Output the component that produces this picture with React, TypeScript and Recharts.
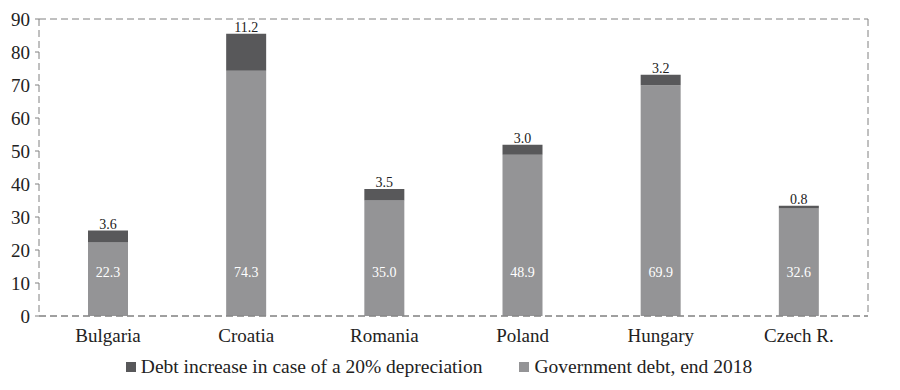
import { Bar, BarChart, CartesianGrid, LabelList, Legend, XAxis, YAxis } from "recharts"

const countries = ["Bulgaria", "Croatia", "Romania", "Poland", "Hungary", "Czech R."]
const govDebt = [22.3, 74.3, 35.0, 48.9, 69.9, 32.6]
const debtIncrease = [3.6, 11.2, 3.5, 3.0, 3.2, 0.8]
const yTicks = [0, 10, 20, 30, 40, 50, 60, 70, 80, 90]

const data = countries.map((name, i) => ({ name, gov: govDebt[i], inc: debtIncrease[i] }))

const FONT = "'Liberation Serif', 'Times New Roman', serif"
const DARK = "#58585a"
const LIGHT = "#949496"
const GRID = "#808080"

const legendItems = [
  { label: "Debt increase in case of a 20% depreciation", color: DARK },
  { label: "Government debt, end 2018", color: LIGHT },
]

function LegendContent() {
  return (
    <div style={{ display: "flex", justifyContent: "center", gap: 37, fontFamily: FONT, fontSize: 19.5, color: "#222", paddingTop: 4 }}>
      {legendItems.map((it) => (
        <span key={it.label} style={{ display: "flex", alignItems: "center" }}>
          <span style={{ width: 10, height: 10, background: it.color, marginRight: 5, display: "inline-block" }} />
          {it.label}
        </span>
      ))}
    </div>
  )
}

function InsideLabel(props: any) {
  const { x, y, width, height, value } = props
  return (
    <text x={x + width / 2} y={y + height - 44} fill="#fff" fontSize={14} fontFamily={FONT} textAnchor="middle" dominantBaseline="central">
      {Number(value).toFixed(1)}
    </text>
  )
}

function TopLabel(props: any) {
  const { x, y, width, value } = props
  return (
    <text x={x + width / 2} y={y - 2} fill="#222" fontSize={14} fontFamily={FONT} textAnchor="middle">
      {Number(value).toFixed(1)}
    </text>
  )
}

export default function App() {
  return (
    <div style={{ position: "absolute", left: 0, top: 0, background: "#fff" }}>
      <BarChart width={900} height={390} data={data} margin={{ top: 19, right: 22, bottom: 8, left: 0 }} barSize={40}>
        <CartesianGrid vertical={false} stroke={GRID} strokeDasharray="7 4" />
        <XAxis
          dataKey="name"
          height={36}
          axisLine={{ stroke: GRID, strokeDasharray: "7 4" }}
          tickLine={false}
          tick={{ fill: "#222", fontSize: 19, fontFamily: FONT }}
          tickMargin={7}
        />
        <YAxis
          yAxisId="left"
          width={39}
          domain={[0, 90]}
          ticks={yTicks}
          interval={0}
          axisLine={{ stroke: GRID, strokeDasharray: "7 4" }}
          tickLine={{ stroke: GRID }}
          tickSize={4}
          tickMargin={5}
          tick={{ fill: "#222", fontSize: 19, fontFamily: FONT }}
        />
        <YAxis
          yAxisId="right"
          orientation="right"
          width={10}
          domain={[0, 90]}
          ticks={yTicks}
          interval={0}
          axisLine={{ stroke: GRID, strokeDasharray: "7 4" }}
          tickLine={{ stroke: GRID }}
          tickSize={3}
          tickFormatter={() => ""}
        />
        <Legend verticalAlign="bottom" height={30} content={<LegendContent />} />
        <Bar yAxisId="left" dataKey="gov" stackId="a" fill={LIGHT} isAnimationActive={false}>
          <LabelList dataKey="gov" content={<InsideLabel />} />
        </Bar>
        <Bar yAxisId="left" dataKey="inc" stackId="a" fill={DARK} isAnimationActive={false}>
          <LabelList dataKey="inc" content={<TopLabel />} />
        </Bar>
      </BarChart>
    </div>
  )
}
